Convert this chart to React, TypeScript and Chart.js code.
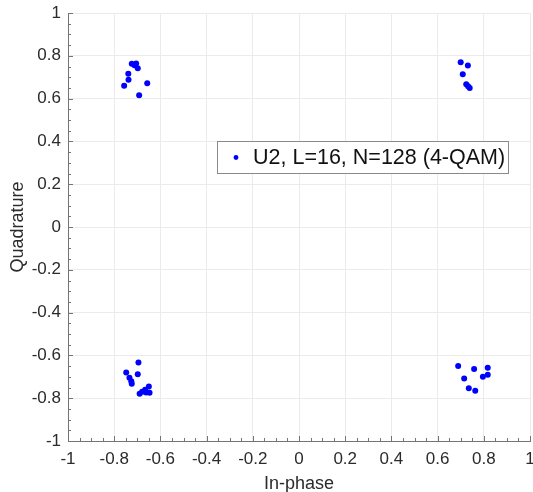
import React, { useEffect, useRef } from "react";
import { Chart, registerables } from "chart.js";

Chart.register(...registerables);

// In-phase (x) and quadrature (y) components of the received symbols
const inPhase = [
  -0.724, -0.705, -0.712, -0.698, -0.739, -0.738, -0.757, -0.657, -0.692,
  0.7, 0.731, 0.709, 0.724, 0.739, 0.732,
  -0.695, -0.748, -0.698, -0.734, -0.726, -0.724, -0.65, -0.666, -0.647, -0.662, -0.69, -0.679,
  0.689, 0.758, 0.817, 0.817, 0.796, 0.715, 0.735, 0.763,
];
const quadrature = [
  0.763, 0.764, 0.756, 0.742, 0.716, 0.688, 0.66, 0.672, 0.616,
  0.77, 0.755, 0.714, 0.667, 0.649, 0.658,
  -0.633, -0.68, -0.688, -0.705, -0.721, -0.733, -0.745, -0.761, -0.775, -0.773, -0.779, -0.77,
  -0.65, -0.664, -0.658, -0.691, -0.7, -0.708, -0.753, -0.765,
];
const seriesLabel = "U2, L=16, N=128 (4-QAM)";
const xTitle = "In-phase";
const yTitle = "Quadrature";
const axisMin = -1;
const axisMax = 1;
const majorStep = 0.2;
const minorStep = 0.05;

const FONT = "'Liberation Sans', Arial, Helvetica, sans-serif";
const TEXT = "#2b2b2b";
const AXIS = "#747474";
const GRID = "#ebebeb";
const BLUE = "#0000ff";

const fmt = (v: number) => String(Number(Number(v).toFixed(2)));

const ticksPlugin = {
  id: "inwardTicks",
  beforeDatasetsDraw(chart: any) {
    const { ctx, chartArea } = chart;
    const xs = chart.scales.x;
    const ys = chart.scales.y;
    ctx.save();
    ctx.strokeStyle = AXIS;
    ctx.lineWidth = 1;
    const n = Math.round((axisMax - axisMin) / minorStep);
    for (let i = 0; i <= n; i++) {
      const v = axisMin + i * minorStep;
      const major = i % Math.round(majorStep / minorStep) === 0;
      const len = major ? 5 : 3;
      const px = Math.round(xs.getPixelForValue(v)) + 0.5;
      ctx.beginPath();
      ctx.moveTo(px, chartArea.bottom);
      ctx.lineTo(px, chartArea.bottom - len);
      ctx.stroke();
      const py = Math.round(ys.getPixelForValue(v)) + 0.5;
      ctx.beginPath();
      ctx.moveTo(chartArea.left, py);
      ctx.lineTo(chartArea.left + len, py);
      ctx.stroke();
    }
    ctx.restore();
  },
};

const legendPlugin = {
  id: "boxLegend",
  afterDraw(chart: any) {
    const { ctx, chartArea } = chart;
    const ds = chart.data.datasets[0];
    const bx = chartArea.left + 149;
    const by = chartArea.top + 128;
    const bw = 291;
    const bh = 32;
    ctx.save();
    ctx.fillStyle = "#ffffff";
    ctx.fillRect(bx, by, bw, bh);
    ctx.strokeStyle = "#8a8a8a";
    ctx.lineWidth = 1;
    ctx.strokeRect(bx + 0.5, by + 0.5, bw, bh);
    ctx.fillStyle = ds.backgroundColor;
    ctx.beginPath();
    ctx.arc(bx + 19, by + 16.5, 2.4, 0, Math.PI * 2);
    ctx.fill();
    ctx.fillStyle = "#111111";
    ctx.font = `21.5px ${FONT}`;
    ctx.textAlign = "left";
    ctx.textBaseline = "middle";
    ctx.fillText(ds.label, bx + 36, by + 17);
    ctx.restore();
  },
};

export default function App() {
  const ref = useRef<HTMLCanvasElement | null>(null);

  useEffect(() => {
    if (!ref.current) return;
    const points = inPhase.map((x, i) => ({ x, y: quadrature[i] }));
    const chart = new Chart(ref.current, {
      type: "scatter",
      data: {
        datasets: [
          {
            label: seriesLabel,
            data: points,
            backgroundColor: BLUE,
            borderColor: BLUE,
            borderWidth: 0,
            pointRadius: 3,
            pointHoverRadius: 3,
          },
        ],
      },
      options: {
        animation: false,
        responsive: false,
        devicePixelRatio: 1,
        layout: { padding: { top: 13, right: 2, bottom: 0, left: 0 } },
        plugins: {
          legend: { display: false },
          tooltip: { enabled: false },
        },
        scales: {
          x: {
            type: "linear",
            min: axisMin,
            max: axisMax,
            afterFit: (s: any) => {
              s.height = 51;
              s.paddingLeft = 0;
              s.paddingRight = 0;
            },
            grid: { color: GRID, drawTicks: false, lineWidth: 1 },
            border: { display: true, color: AXIS, width: 1 },
            ticks: {
              stepSize: majorStep,
              autoSkip: false,
              maxRotation: 0,
              padding: 8,
              color: TEXT,
              font: { family: FONT, size: 17 },
              callback: (v: any) => fmt(v),
            },
            title: {
              display: true,
              text: xTitle,
              color: TEXT,
              font: { family: FONT, size: 18, lineHeight: 1 },
              padding: { top: 0, bottom: -1 },
            },
          },
          y: {
            type: "linear",
            min: axisMin,
            max: axisMax,
            afterFit: (s: any) => {
              s.width = 68;
              s.paddingTop = 0;
              s.paddingBottom = 0;
            },
            grid: { color: GRID, drawTicks: false, lineWidth: 1 },
            border: { display: true, color: AXIS, width: 1 },
            ticks: {
              stepSize: majorStep,
              autoSkip: false,
              padding: 7,
              color: TEXT,
              font: { family: FONT, size: 17 },
              callback: (v: any) => fmt(v),
            },
            title: {
              display: true,
              text: yTitle,
              color: TEXT,
              font: { family: FONT, size: 18, lineHeight: 1 },
              padding: { top: 9, bottom: 0 },
            },
          },
        },
      },
      plugins: [ticksPlugin, legendPlugin],
    });
    return () => chart.destroy();
  }, []);

  return (
    <div style={{ position: "absolute", left: 0, top: 0, width: 533, height: 492, background: "#fff" }}>
      <canvas ref={ref} width={533} height={492} style={{ display: "block" }} />
    </div>
  );
}
